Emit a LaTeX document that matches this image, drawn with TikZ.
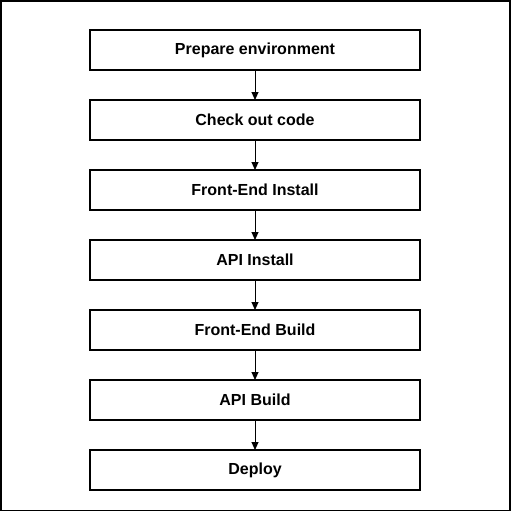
\documentclass[tikz,border=0pt]{standalone}
\usepackage{fontspec}
\setmainfont{Liberation Sans}
\usetikzlibrary{positioning, arrows.meta}

\begin{document}
\begin{tikzpicture}[font=\bfseries\fontsize{16}{19}\selectfont, x=1pt, y=-1pt]

        % Frame round the whole picture
        \useasboundingbox (0,0) rectangle (511,512);
        \draw[line width=1.5pt] (0.75,0.75) rectangle (509.75,510.25);

        % Setup the style for the stages
        \tikzset{stage style/.style={draw,
                                     rectangle,
                                     minimum width=330pt,
                                     minimum height=40pt,
                                     inner sep=0pt,
                                     outer sep=0pt,
                                     line width=1.5pt}}

        % Draw the stages
        \node[stage style] at (255, 50) (prepare) {Prepare environment};
        \node[stage style, below=30pt of prepare]   (checkout) {Check out code};
        \node[stage style, below=30pt of checkout]  (feinstall) {Front-End Install};
        \node[stage style, below=30pt of feinstall] (apiinstall) {API Install};
        \node[stage style, below=30pt of apiinstall] (febuild) {Front-End Build};
        \node[stage style, below=30pt of febuild]   (apibuild) {API Build};
        \node[stage style, below=30pt of apibuild]  (deploy) {Deploy};

        % Connect the stages with arrows
        \draw[line width=1pt,
              -{Triangle[width=7pt, length=8pt]}]
            (prepare)    edge (checkout)
            (checkout)   edge (feinstall)
            (feinstall)  edge (apiinstall)
            (apiinstall) edge (febuild)
            (febuild)    edge (apibuild)
            (apibuild)   edge (deploy);
\end{tikzpicture}
\end{document}
